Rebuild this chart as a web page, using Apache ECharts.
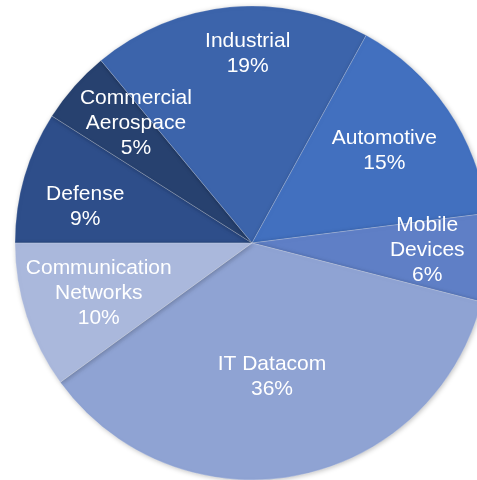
<!DOCTYPE html>
<html>
<head>
<meta charset="utf-8">
<script src="https://cdn.jsdelivr.net/npm/echarts@6/dist/echarts.min.js"></script>
<style>
    html, body { margin: 0; padding: 0; background: #fff; }
    #chart { width: 477px; height: 480px; }
</style>
</head>
<body>
<div id="chart"></div>
<script>
// slices in clockwise order, starting at 9 o'clock
const categories = [
    "Defense",
    "Commercial\nAerospace",
    "Industrial",
    "Automotive",
    "Mobile\nDevices",
    "IT Datacom",
    "Communication\nNetworks",
];
const shares = [9, 5, 19, 15, 6, 36, 10];

const colors = ["#2e4e8a", "#27416f", "#3c64ab", "#4270bf", "#5f7fc6", "#8fa3d3", "#aab8dc"];
// label placement: angle tweak (deg) from slice middle, distance as fraction of radius
const labelTurn = [4, -4.6, -4.1, 0.6, 1.3, -2.3, 0];
const labelDist = [0.72, 0.705, 0.8, 0.68, 0.74, 0.57, 0.68];

const cx = 252, cy = 243, r = 237, start = 180;
const total = shares.reduce((a, b) => a + b, 0);

const labelAt = (idx) => {
    let before = 0;
    for (let i = 0; i < idx; i++) before += shares[i];
    const mid = start - ((before + shares[idx] / 2) / total) * 360 + labelTurn[idx];
    const a = (mid * Math.PI) / 180;
    return {
        x: cx + labelDist[idx] * r * Math.cos(a),
        y: cy - labelDist[idx] * r * Math.sin(a),
    };
};

const chart = echarts.init(document.getElementById("chart"));
chart.setOption({
    animation: false,
    series: [
        {
            type: "pie",
            center: [cx, cy],
            radius: r,
            startAngle: start,
            clockwise: true,
            data: categories.map((c, i) => ({
                name: c,
                value: shares[i],
                itemStyle: { color: colors[i] },
            })),
            itemStyle: {
                borderColor: "rgba(255,255,255,0.35)",
                borderWidth: 0.6,
                shadowBlur: 5,
                shadowColor: "rgba(0,0,0,0.25)",
                shadowOffsetX: 1,
                shadowOffsetY: 1,
            },
            label: {
                show: true,
                position: "inside",
                color: "#ffffff",
                fontFamily: "Liberation Sans, Arial, sans-serif",
                fontSize: 21,
                lineHeight: 25,
                align: "center",
                formatter: (p) => `${p.name}\n${Math.round(p.percent)}%`,
            },
            labelLine: { show: false },
            labelLayout: (params) => {
                const pos = labelAt(params.dataIndex);
                return {
                    x: pos.x,
                    y: pos.y,
                    align: "center",
                    verticalAlign: "middle",
                };
            },
            emphasis: { disabled: true },
        },
    ],
});
</script>
</body>
</html>
